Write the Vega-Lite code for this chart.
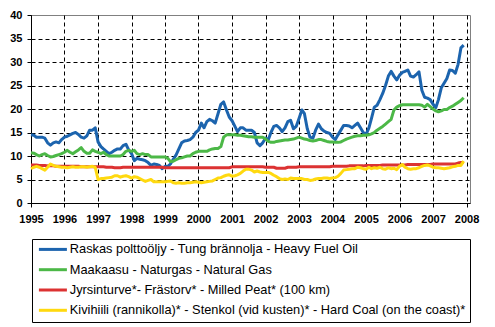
{
 "$schema": "https://vega.github.io/schema/vega-lite/v6.json",
 "width": 439, "height": 188,
 "autosize": {"type": "none"},
 "padding": {"left": 31, "top": 15, "right": 25, "bottom": 124},
 "background": "white",
 "config": {"view": {"stroke": "#808080", "strokeWidth": 1}, "font": "Liberation Sans"},
 "datasets": {"fuels": [
  {"d":"1995-01","hfo":14.5,"gas":10.7,"peat":8.1,"coal":7.3},
  {"d":"1995-02","hfo":14.4,"gas":10.6,"peat":8.1,"coal":7.6},
  {"d":"1995-03","hfo":14.0,"gas":10.3,"peat":8.1,"coal":7.8},
  {"d":"1995-04","hfo":14.0,"gas":10.0,"peat":8.0,"coal":7.6},
  {"d":"1995-05","hfo":14.0,"gas":10.3,"peat":8.0,"coal":7.3},
  {"d":"1995-06","hfo":13.8,"gas":10.5,"peat":8.0,"coal":7.0},
  {"d":"1995-07","hfo":12.8,"gas":10.1,"peat":7.9,"coal":7.6},
  {"d":"1995-08","hfo":12.3,"gas":9.8,"peat":7.9,"coal":8.3},
  {"d":"1995-09","hfo":12.8,"gas":9.9,"peat":7.9,"coal":8.0},
  {"d":"1995-10","hfo":13.0,"gas":10.1,"peat":7.8,"coal":7.8},
  {"d":"1995-11","hfo":12.8,"gas":10.3,"peat":7.8,"coal":7.7},
  {"d":"1995-12","hfo":13.5,"gas":10.5,"peat":7.8,"coal":7.6},
  {"d":"1996-01","hfo":14.0,"gas":10.8,"peat":7.8,"coal":7.6},
  {"d":"1996-02","hfo":14.2,"gas":11.2,"peat":7.8,"coal":7.5},
  {"d":"1996-03","hfo":14.5,"gas":10.8,"peat":7.8,"coal":7.6},
  {"d":"1996-04","hfo":14.8,"gas":10.5,"peat":7.8,"coal":7.7},
  {"d":"1996-05","hfo":15.0,"gas":10.9,"peat":7.8,"coal":7.6},
  {"d":"1996-06","hfo":14.6,"gas":11.3,"peat":7.8,"coal":7.6},
  {"d":"1996-07","hfo":14.0,"gas":11.8,"peat":7.7,"coal":7.7},
  {"d":"1996-08","hfo":13.8,"gas":11.0,"peat":7.7,"coal":7.7},
  {"d":"1996-09","hfo":14.3,"gas":10.6,"peat":7.7,"coal":7.6},
  {"d":"1996-10","hfo":15.5,"gas":10.6,"peat":7.7,"coal":7.7},
  {"d":"1996-11","hfo":15.5,"gas":11.3,"peat":7.7,"coal":7.8},
  {"d":"1996-12","hfo":16.0,"gas":11.0,"peat":7.7,"coal":7.6},
  {"d":"1997-01","hfo":13.0,"gas":10.8,"peat":7.7,"coal":5.0},
  {"d":"1997-02","hfo":12.0,"gas":10.5,"peat":7.7,"coal":5.2},
  {"d":"1997-03","hfo":11.5,"gas":10.8,"peat":7.7,"coal":5.2},
  {"d":"1997-04","hfo":11.0,"gas":10.3,"peat":7.6,"coal":5.3},
  {"d":"1997-05","hfo":10.5,"gas":10.0,"peat":7.6,"coal":5.4},
  {"d":"1997-06","hfo":10.8,"gas":10.0,"peat":7.6,"coal":5.5},
  {"d":"1997-07","hfo":11.2,"gas":10.0,"peat":7.5,"coal":5.8},
  {"d":"1997-08","hfo":11.5,"gas":10.0,"peat":7.5,"coal":5.8},
  {"d":"1997-09","hfo":11.5,"gas":10.0,"peat":7.5,"coal":5.5},
  {"d":"1997-10","hfo":12.2,"gas":10.3,"peat":7.6,"coal":5.7},
  {"d":"1997-11","hfo":12.5,"gas":11.0,"peat":7.6,"coal":5.8},
  {"d":"1997-12","hfo":11.3,"gas":11.2,"peat":7.6,"coal":5.6},
  {"d":"1998-01","hfo":10.5,"gas":11.0,"peat":7.6,"coal":5.3},
  {"d":"1998-02","hfo":9.0,"gas":11.2,"peat":7.6,"coal":5.6},
  {"d":"1998-03","hfo":9.5,"gas":10.5,"peat":7.6,"coal":5.5},
  {"d":"1998-04","hfo":9.3,"gas":10.3,"peat":7.6,"coal":5.2},
  {"d":"1998-05","hfo":9.2,"gas":10.5,"peat":7.6,"coal":4.9},
  {"d":"1998-06","hfo":9.0,"gas":10.3,"peat":7.6,"coal":4.6},
  {"d":"1998-07","hfo":8.6,"gas":10.3,"peat":7.6,"coal":4.8},
  {"d":"1998-08","hfo":8.0,"gas":9.8,"peat":7.6,"coal":5.0},
  {"d":"1998-09","hfo":8.3,"gas":9.8,"peat":7.6,"coal":4.5},
  {"d":"1998-10","hfo":8.2,"gas":9.8,"peat":7.6,"coal":4.5},
  {"d":"1998-11","hfo":8.0,"gas":9.8,"peat":7.6,"coal":4.5},
  {"d":"1998-12","hfo":7.3,"gas":9.8,"peat":7.6,"coal":4.5},
  {"d":"1999-01","hfo":7.8,"gas":9.8,"peat":7.5,"coal":4.5},
  {"d":"1999-02","hfo":7.8,"gas":9.5,"peat":7.5,"coal":4.6},
  {"d":"1999-03","hfo":8.3,"gas":8.8,"peat":7.5,"coal":4.7},
  {"d":"1999-04","hfo":9.3,"gas":8.9,"peat":7.5,"coal":4.3},
  {"d":"1999-05","hfo":10.2,"gas":9.2,"peat":7.5,"coal":4.2},
  {"d":"1999-06","hfo":11.5,"gas":9.5,"peat":7.5,"coal":4.3},
  {"d":"1999-07","hfo":12.8,"gas":9.6,"peat":7.5,"coal":4.2},
  {"d":"1999-08","hfo":13.2,"gas":9.8,"peat":7.5,"coal":4.2},
  {"d":"1999-09","hfo":13.3,"gas":10.0,"peat":7.5,"coal":4.3},
  {"d":"1999-10","hfo":13.5,"gas":10.0,"peat":7.5,"coal":4.3},
  {"d":"1999-11","hfo":14.0,"gas":10.5,"peat":7.5,"coal":4.4},
  {"d":"1999-12","hfo":15.0,"gas":10.8,"peat":7.5,"coal":4.5},
  {"d":"2000-01","hfo":15.5,"gas":11.0,"peat":7.5,"coal":4.4},
  {"d":"2000-02","hfo":17.0,"gas":11.0,"peat":7.5,"coal":4.3},
  {"d":"2000-03","hfo":16.0,"gas":11.0,"peat":7.5,"coal":4.4},
  {"d":"2000-04","hfo":17.3,"gas":11.0,"peat":7.5,"coal":4.5},
  {"d":"2000-05","hfo":17.8,"gas":11.3,"peat":7.5,"coal":4.6},
  {"d":"2000-06","hfo":17.5,"gas":11.5,"peat":7.5,"coal":4.7},
  {"d":"2000-07","hfo":17.0,"gas":11.6,"peat":7.5,"coal":5.0},
  {"d":"2000-08","hfo":19.0,"gas":11.6,"peat":7.5,"coal":5.3},
  {"d":"2000-09","hfo":21.0,"gas":12.0,"peat":7.5,"coal":5.4},
  {"d":"2000-10","hfo":21.5,"gas":14.0,"peat":7.5,"coal":5.7},
  {"d":"2000-11","hfo":19.8,"gas":14.5,"peat":7.5,"coal":5.9},
  {"d":"2000-12","hfo":18.3,"gas":14.5,"peat":7.5,"coal":6.0},
  {"d":"2001-01","hfo":17.5,"gas":14.5,"peat":7.7,"coal":5.7},
  {"d":"2001-02","hfo":16.3,"gas":14.5,"peat":7.7,"coal":5.8},
  {"d":"2001-03","hfo":15.2,"gas":14.4,"peat":7.7,"coal":6.0},
  {"d":"2001-04","hfo":16.0,"gas":14.4,"peat":7.7,"coal":6.3},
  {"d":"2001-05","hfo":16.0,"gas":14.3,"peat":7.7,"coal":6.8},
  {"d":"2001-06","hfo":15.5,"gas":14.2,"peat":7.7,"coal":7.2},
  {"d":"2001-07","hfo":15.5,"gas":14.1,"peat":7.7,"coal":7.2},
  {"d":"2001-08","hfo":15.5,"gas":14.1,"peat":7.7,"coal":7.0},
  {"d":"2001-09","hfo":15.0,"gas":14.0,"peat":7.7,"coal":6.6},
  {"d":"2001-10","hfo":12.8,"gas":14.0,"peat":7.7,"coal":6.8},
  {"d":"2001-11","hfo":12.2,"gas":14.0,"peat":7.7,"coal":6.6},
  {"d":"2001-12","hfo":12.8,"gas":14.0,"peat":7.7,"coal":6.5},
  {"d":"2002-01","hfo":13.8,"gas":13.6,"peat":7.6,"coal":6.5},
  {"d":"2002-02","hfo":13.5,"gas":13.1,"peat":7.6,"coal":6.5},
  {"d":"2002-03","hfo":15.0,"gas":12.9,"peat":7.6,"coal":6.3},
  {"d":"2002-04","hfo":16.3,"gas":12.9,"peat":7.6,"coal":5.9},
  {"d":"2002-05","hfo":16.5,"gas":13.1,"peat":7.4,"coal":5.6},
  {"d":"2002-06","hfo":16.0,"gas":13.2,"peat":7.4,"coal":5.2},
  {"d":"2002-07","hfo":15.2,"gas":13.3,"peat":7.4,"coal":5.0},
  {"d":"2002-08","hfo":16.0,"gas":13.4,"peat":7.4,"coal":5.1},
  {"d":"2002-09","hfo":17.3,"gas":13.4,"peat":7.6,"coal":5.0},
  {"d":"2002-10","hfo":17.6,"gas":13.5,"peat":7.6,"coal":5.3},
  {"d":"2002-11","hfo":15.8,"gas":13.6,"peat":7.6,"coal":5.2},
  {"d":"2002-12","hfo":16.3,"gas":13.8,"peat":7.6,"coal":5.2},
  {"d":"2003-01","hfo":18.0,"gas":14.0,"peat":7.7,"coal":5.2},
  {"d":"2003-02","hfo":19.8,"gas":13.8,"peat":7.7,"coal":5.2},
  {"d":"2003-03","hfo":19.0,"gas":13.6,"peat":7.7,"coal":5.0},
  {"d":"2003-04","hfo":15.8,"gas":13.5,"peat":7.7,"coal":5.0},
  {"d":"2003-05","hfo":14.0,"gas":13.3,"peat":7.7,"coal":4.8},
  {"d":"2003-06","hfo":13.8,"gas":13.2,"peat":7.7,"coal":4.9},
  {"d":"2003-07","hfo":15.5,"gas":13.3,"peat":7.7,"coal":5.1},
  {"d":"2003-08","hfo":16.8,"gas":13.5,"peat":7.7,"coal":5.2},
  {"d":"2003-09","hfo":15.8,"gas":13.5,"peat":7.7,"coal":5.2},
  {"d":"2003-10","hfo":15.3,"gas":13.3,"peat":7.7,"coal":5.3},
  {"d":"2003-11","hfo":15.0,"gas":13.1,"peat":7.7,"coal":5.3},
  {"d":"2003-12","hfo":14.8,"gas":13.0,"peat":7.7,"coal":5.2},
  {"d":"2004-01","hfo":14.0,"gas":13.0,"peat":7.8,"coal":5.3},
  {"d":"2004-02","hfo":13.5,"gas":12.9,"peat":7.8,"coal":5.4},
  {"d":"2004-03","hfo":14.5,"gas":12.9,"peat":7.8,"coal":5.7},
  {"d":"2004-04","hfo":15.5,"gas":13.0,"peat":7.8,"coal":6.3},
  {"d":"2004-05","hfo":16.5,"gas":13.3,"peat":7.8,"coal":7.0},
  {"d":"2004-06","hfo":16.5,"gas":13.6,"peat":7.8,"coal":7.1},
  {"d":"2004-07","hfo":16.4,"gas":13.8,"peat":7.9,"coal":7.2},
  {"d":"2004-08","hfo":16.0,"gas":14.0,"peat":7.9,"coal":7.3},
  {"d":"2004-09","hfo":16.5,"gas":14.2,"peat":7.9,"coal":7.3},
  {"d":"2004-10","hfo":17.0,"gas":14.3,"peat":7.9,"coal":7.6},
  {"d":"2004-11","hfo":16.0,"gas":14.3,"peat":7.9,"coal":7.5},
  {"d":"2004-12","hfo":15.0,"gas":14.4,"peat":7.9,"coal":7.3},
  {"d":"2005-01","hfo":14.6,"gas":14.4,"peat":8.0,"coal":7.2},
  {"d":"2005-02","hfo":16.0,"gas":14.5,"peat":8.0,"coal":7.6},
  {"d":"2005-03","hfo":18.0,"gas":14.7,"peat":8.0,"coal":7.3},
  {"d":"2005-04","hfo":20.4,"gas":15.0,"peat":8.0,"coal":7.5},
  {"d":"2005-05","hfo":20.8,"gas":15.5,"peat":8.0,"coal":7.4},
  {"d":"2005-06","hfo":22.0,"gas":15.9,"peat":8.0,"coal":7.6},
  {"d":"2005-07","hfo":23.3,"gas":16.3,"peat":8.1,"coal":7.3},
  {"d":"2005-08","hfo":25.0,"gas":16.8,"peat":8.1,"coal":7.2},
  {"d":"2005-09","hfo":27.0,"gas":17.3,"peat":8.1,"coal":7.5},
  {"d":"2005-10","hfo":28.0,"gas":17.8,"peat":8.1,"coal":7.3},
  {"d":"2005-11","hfo":27.0,"gas":19.8,"peat":8.1,"coal":7.4},
  {"d":"2005-12","hfo":26.2,"gas":20.4,"peat":8.1,"coal":7.1},
  {"d":"2006-01","hfo":27.2,"gas":20.7,"peat":8.1,"coal":7.8},
  {"d":"2006-02","hfo":27.8,"gas":20.9,"peat":8.1,"coal":8.2},
  {"d":"2006-03","hfo":28.0,"gas":20.9,"peat":8.1,"coal":7.6},
  {"d":"2006-04","hfo":28.3,"gas":20.9,"peat":8.2,"coal":7.3},
  {"d":"2006-05","hfo":27.0,"gas":20.9,"peat":8.2,"coal":7.2},
  {"d":"2006-06","hfo":26.8,"gas":20.9,"peat":8.2,"coal":7.3},
  {"d":"2006-07","hfo":27.3,"gas":20.9,"peat":8.2,"coal":7.3},
  {"d":"2006-08","hfo":27.9,"gas":20.9,"peat":8.2,"coal":7.5},
  {"d":"2006-09","hfo":24.0,"gas":20.8,"peat":8.2,"coal":7.8},
  {"d":"2006-10","hfo":22.5,"gas":20.4,"peat":8.2,"coal":8.0},
  {"d":"2006-11","hfo":22.3,"gas":21.0,"peat":8.2,"coal":8.1},
  {"d":"2006-12","hfo":22.0,"gas":20.5,"peat":8.2,"coal":7.9},
  {"d":"2007-01","hfo":21.0,"gas":20.0,"peat":8.3,"coal":7.6},
  {"d":"2007-02","hfo":20.3,"gas":19.6,"peat":8.3,"coal":7.5},
  {"d":"2007-03","hfo":22.0,"gas":19.4,"peat":8.3,"coal":7.5},
  {"d":"2007-04","hfo":24.5,"gas":19.6,"peat":8.3,"coal":7.4},
  {"d":"2007-05","hfo":25.5,"gas":19.9,"peat":8.3,"coal":7.3},
  {"d":"2007-06","hfo":26.5,"gas":19.9,"peat":8.3,"coal":7.4},
  {"d":"2007-07","hfo":28.3,"gas":20.3,"peat":8.3,"coal":7.5},
  {"d":"2007-08","hfo":28.2,"gas":20.6,"peat":8.3,"coal":7.7},
  {"d":"2007-09","hfo":27.6,"gas":21.0,"peat":8.3,"coal":7.8},
  {"d":"2007-10","hfo":29.5,"gas":21.4,"peat":8.5,"coal":8.0},
  {"d":"2007-11","hfo":33.0,"gas":21.8,"peat":8.6,"coal":8.0},
  {"d":"2007-12","hfo":33.6,"gas":22.4,"peat":8.6,"coal":8.9}
 ]},
 "data": {"name": "fuels"},
 "transform": [{"fold": ["hfo", "gas", "peat", "coal"], "as": ["s", "v"]}],
 "mark": {"type": "line", "strokeWidth": 3, "strokeJoin": "round"},
 "encoding": {
  "x": {
   "field": "d", "type": "temporal",
   "scale": {"type": "utc", "domain": [{"year": 1995, "month": 1, "date": 1, "utc": true}, {"year": 2008, "month": 2, "date": 8, "utc": true}]},
   "axis": {
    "title": null, "format": "%Y", "formatType": "utc",
    "values": [{"year":1995,"month":1,"date":1,"utc":true},{"year":1996,"month":1,"date":1,"utc":true},{"year":1997,"month":1,"date":1,"utc":true},{"year":1998,"month":1,"date":1,"utc":true},{"year":1999,"month":1,"date":1,"utc":true},{"year":2000,"month":1,"date":1,"utc":true},{"year":2001,"month":1,"date":1,"utc":true},{"year":2002,"month":1,"date":1,"utc":true},{"year":2003,"month":1,"date":1,"utc":true},{"year":2004,"month":1,"date":1,"utc":true},{"year":2005,"month":1,"date":1,"utc":true},{"year":2006,"month":1,"date":1,"utc":true},{"year":2007,"month":1,"date":1,"utc":true},{"year":2008,"month":1,"date":1,"utc":true}],
    "grid": true, "gridColor": "black", "gridDash": [4, 3], "gridWidth": 1,
    "domainColor": "black", "domainWidth": 1, "tickColor": "black", "tickSize": 4,
    "labelFont": "Liberation Sans", "labelFontSize": 11, "labelFontWeight": "bold", "labelColor": "black",
    "labelPadding": 6, "labelAngle": 0, "labelFlush": false, "labelOverlap": false
   }
  },
  "y": {
   "field": "v", "type": "quantitative",
   "scale": {"domain": [0, 40], "nice": false},
   "axis": {
    "title": null, "values": [0, 5, 10, 15, 20, 25, 30, 35, 40],
    "grid": true, "gridColor": "black", "gridDash": [4, 3], "gridWidth": 1,
    "gridOpacity": {"condition": {"test": "datum.value == 40", "value": 0}, "value": 1},
    "domainColor": "black", "domainWidth": 1, "tickColor": "black", "tickSize": 4,
    "labelFont": "Liberation Sans", "labelFontSize": 11, "labelFontWeight": "bold", "labelColor": "black",
    "labelPadding": 5
   }
  },
  "color": {
   "field": "s", "type": "nominal",
   "scale": {"domain": ["hfo", "gas", "peat", "coal"], "range": ["#1C64AE", "#4CB847", "#DC3232", "#FFD90F"]},
   "legend": {
    "orient": "none", "legendX": 1, "legendY": 224, "title": null, "direction": "vertical",
    "strokeColor": "black", "fillColor": "white", "padding": 4,
    "symbolType": "M-1,0H7", "symbolSize": 49, "symbolStrokeWidth": 3,
    "labelFont": "Liberation Sans", "labelFontSize": 12.8, "labelColor": "black", "labelLimit": 600, "labelOffset": 21,
    "rowPadding": 6.3,
    "labelExpr": "datum.value == 'hfo' ? 'Raskas polttoöljy - Tung brännolja - Heavy Fuel Oil' : datum.value == 'gas' ? 'Maakaasu - Naturgas - Natural Gas' : datum.value == 'peat' ? 'Jyrsinturve*- Frästorv* - Milled Peat* (100 km)' : 'Kivihiili (rannikolla)* - Stenkol (vid kusten)* - Hard Coal (on the coast)*'"
   }
  }
 }
}
